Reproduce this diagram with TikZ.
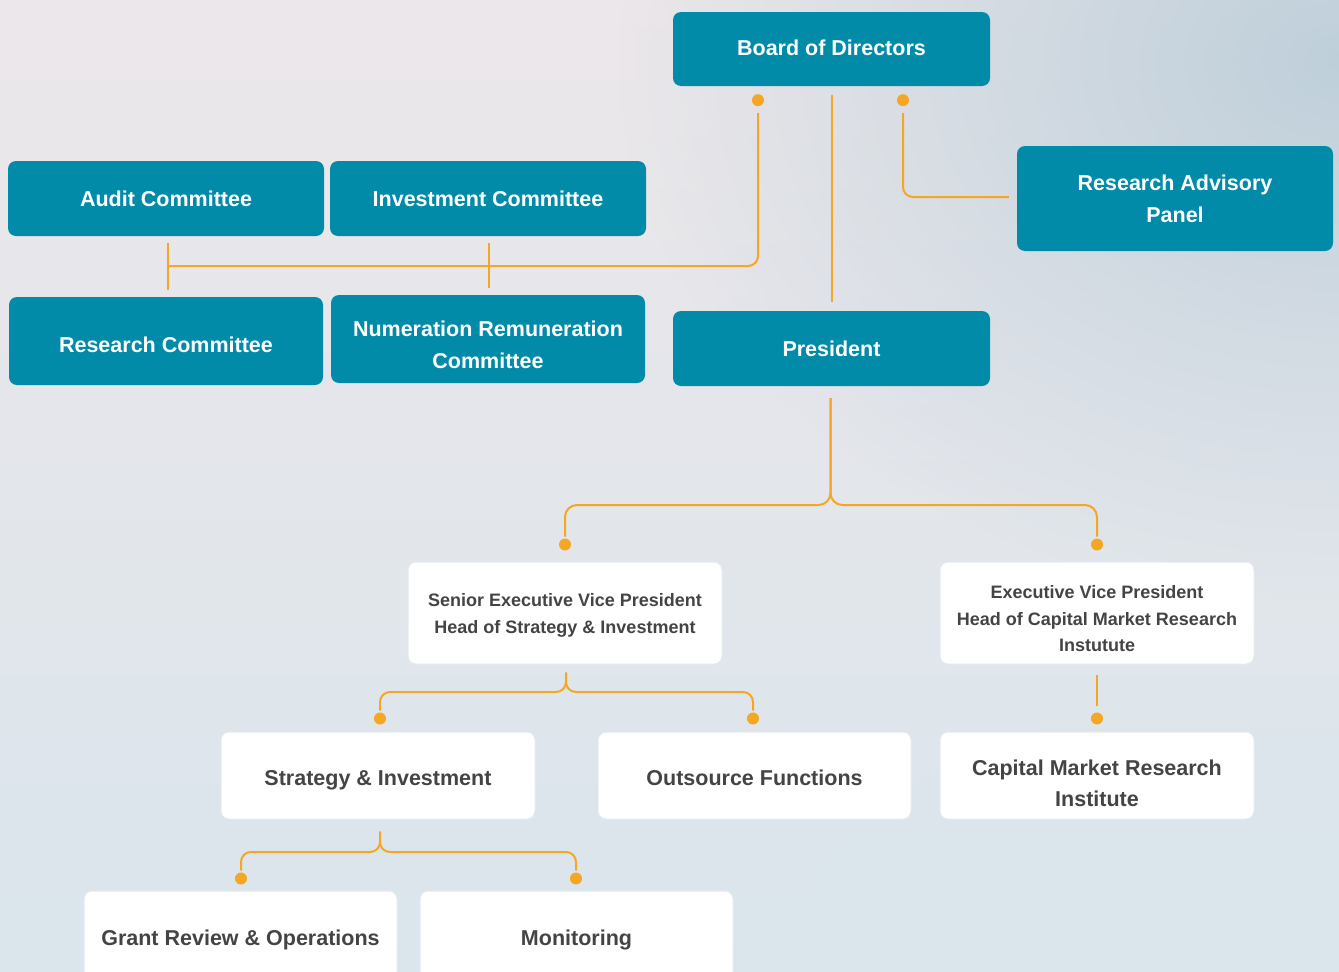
\documentclass[tikz,border=0pt]{standalone}
\usepackage{fontspec}
\setmainfont{Liberation Sans}
\usetikzlibrary{fadings,calc}
\definecolor{teal1}{HTML}{018BA8}
\definecolor{conn}{HTML}{F5A623}
\definecolor{dark}{HTML}{444444}
\definecolor{bgA}{HTML}{ECE7EA}
\definecolor{bgB}{HTML}{DAE5EC}
\definecolor{bgC}{HTML}{BACDD9}
\definecolor{wborder}{HTML}{E4EBF0}
\tikzfading[name=softfade, inner color=transparent!0, outer color=transparent!100]
\begin{document}
\begin{tikzpicture}[x=1pt,y=-1pt,
  tbox/.style={fill=teal1, rounded corners=8pt, inner sep=0pt},
  wbox/.style={fill=white, draw=wborder, line width=1pt, rounded corners=8pt, inner sep=0pt},
  tlab/.style={text=white, align=center, inner sep=0pt, font=\bfseries\fontsize{21.5}{32}\selectfont},
  wlab/.style={text=dark, align=center, inner sep=0pt, font=\bfseries\fontsize{21.5}{31}\selectfont},
  slab/.style={text=dark, align=center, inner sep=0pt, font=\bfseries\fontsize{18}{26.5}\selectfont},
  cline/.style={draw=conn, line width=2pt},
  dot/.style={fill=conn}]
\useasboundingbox (0,0) rectangle (1339,972);
\clip (0,0) rectangle (1339,972);
% background
\shade[top color=bgA, bottom color=bgB] (0,0) rectangle (1339,972);
\fill[bgC, path fading=softfade, opacity=0.9] (1339,60) ellipse (720 and 540);
\fill[bgB, path fading=softfade, opacity=0.6] (1250,950) ellipse (450 and 250);

% nodes
\node[tbox, minimum width=317, minimum height=74,
  label={[tlab, yshift=1pt]center:Board of Directors}] (bod) at (831.5,49) {};
\node[tbox, minimum width=316, minimum height=75,
  label={[tlab]center:Audit Committee}] (audit) at (166,198.5) {};
\node[tbox, minimum width=316, minimum height=75,
  label={[tlab]center:Investment Committee}] (invest) at (488,198.5) {};
\node[tbox, minimum width=314, minimum height=88,
  label={[tlab, yshift=-4pt]center:Research Committee}] (rescom) at (166,341) {};
\node[tbox, minimum width=314, minimum height=88,
  label={[tlab, yshift=-6pt]center:{Numeration Remuneration\\Committee}}] (numer) at (488,339) {};
\node[tbox, minimum width=317, minimum height=75,
  label={[tlab]center:President}] (pres) at (831.5,348.5) {};
\node[tbox, minimum width=316, minimum height=105,
  label={[tlab]center:{Research Advisory\\Panel}}] (rap) at (1175,198.5) {};

\node[wbox, minimum width=314, minimum height=102,
  label={[slab, yshift=-2.5pt]center:{Senior Executive Vice President\\Head of Strategy \& Investment}}] (sevp) at (565,613) {};
\node[wbox, minimum width=314, minimum height=102,
  label={[slab, yshift=-6pt]center:{Executive Vice President\\Head of Capital Market Research\\Instutute}}] (evp) at (1097,613) {};
\node[wbox, minimum width=314, minimum height=87,
  label={[wlab, yshift=-5pt]center:Strategy \& Investment}] (strat) at (378,775.5) {};
\node[wbox, minimum width=313, minimum height=87,
  label={[wlab, yshift=-2.5pt]center:Outsource Functions}] (outs) at (754.5,775.5) {};
\node[wbox, minimum width=314, minimum height=87,
  label={[wlab, yshift=-8pt]center:{Capital Market Research\\Institute}}] (cmri) at (1097,775.5) {};
\node[wbox, minimum width=313, minimum height=92,
  label={[wlab, yshift=-3pt]center:Grant Review \& Operations}] (grant) at (240.5,937) {};
\node[wbox, minimum width=313, minimum height=92,
  label={[wlab, yshift=-3pt]center:Monitoring}] (monit) at (576.5,937) {};

% helper coordinates
\coordinate (d1) at ($(bod.south)+(-73.5,14)$);
\coordinate (d2) at ($(bod.south)+(71.5,14)$);
\coordinate (row1) at (0,266);
\coordinate (row2) at (0,505);
\coordinate (row3) at (0,692);
\coordinate (row4) at (0,852);
\coordinate (d3) at ($(sevp.north)+(0,-17)$);
\coordinate (d4) at ($(evp.north)+(0,-17)$);
\coordinate (d5) at ($(strat.north)+(2,-13)$);
\coordinate (d6) at ($(outs.north)+(-1.5,-13)$);
\coordinate (d7) at ($(cmri.north)+(0,-13)$);
\coordinate (d8) at ($(grant.north)+(0.5,-12)$);
\coordinate (d9) at ($(monit.north)+(-0.5,-12)$);

% board connectors
\draw[cline, rounded corners=10pt] ($(d1)+(0,13)$) |- ($(audit.south |- row1)+(2,0)$);
\draw[cline, shorten <=7pt, shorten >=7pt] ($(audit.south)+(2,0)$) -- ($(rescom.north)+(2,0)$);
\draw[cline, shorten <=7pt, shorten >=7pt] ($(invest.south)+(1,0)$) -- ($(numer.north)+(1,0)$);
\draw[cline, shorten <=9pt, shorten >=9pt] (bod.south) -- (pres.north);
\draw[cline, rounded corners=10pt] ($(d2)+(0,13)$) |- ($(rap.west)+(-8,-1.5)$);
\fill[dot] (d1) circle (6);
\fill[dot] (d2) circle (6);

% president comb
\draw[cline, rounded corners=12pt] ($(pres.south)+(-1,12)$) -- ($(pres.south |- row2)+(-1,0)$) -| ($(d3)+(0,-8)$);
\draw[cline, rounded corners=12pt] ($(pres.south)+(-1,12)$) -- ($(pres.south |- row2)+(-1,0)$) -| ($(d4)+(0,-8)$);
\fill[dot] (d3) circle (6);
\fill[dot] (d4) circle (6);

% SEVP comb
\draw[cline, rounded corners=10pt] ($(sevp.south)+(1,8)$) -- ($(sevp.south |- row3)+(1,0)$) -| ($(d5)+(0,-8)$);
\draw[cline, rounded corners=10pt] ($(sevp.south)+(1,8)$) -- ($(sevp.south |- row3)+(1,0)$) -| ($(d6)+(0,-8)$);
\fill[dot] (d5) circle (6);
\fill[dot] (d6) circle (6);

% EVP
\draw[cline] ($(evp.south)+(0,10)$) -- ($(d7)+(0,-13)$);
\fill[dot] (d7) circle (6);

% Strategy comb
\draw[cline, rounded corners=10pt] ($(strat.south)+(2,12)$) -- ($(strat.south |- row4)+(2,0)$) -| ($(d8)+(0,-8)$);
\draw[cline, rounded corners=10pt] ($(strat.south)+(2,12)$) -- ($(strat.south |- row4)+(2,0)$) -| ($(d9)+(0,-8)$);
\fill[dot] (d8) circle (6);
\fill[dot] (d9) circle (6);
\end{tikzpicture}
\end{document}
